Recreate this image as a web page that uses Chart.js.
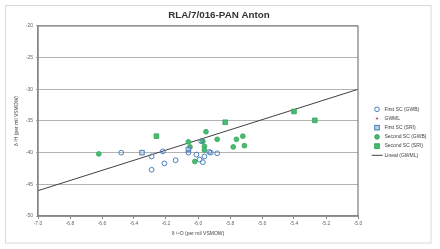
<!DOCTYPE html>
<html lang="en">
<head>
<meta charset="UTF-8" />
<title>RLA/7/016-PAN Anton</title>
<script src="https://cdn.jsdelivr.net/npm/chart.js"></script>
<style>
  html, body { margin: 0; padding: 0; background: #fff; }
  #wrap { width: 440px; height: 249px; }
</style>
</head>
<body>
<div id="wrap"><canvas id="isoChart" width="440" height="249"></canvas></div>
<script>
// First SC (GWB)
const firstGwbX = [-6.48, -6.29, -6.22, -6.21, -6.29, -6.14, -6.06, -6.01, -5.99, -5.96, -5.97, -5.93, -5.92, -5.88, -5.98];
const firstGwbY = [-40.0, -40.6, -39.8, -41.7, -42.7, -41.2, -40.0, -40.3, -41.1, -40.6, -41.5, -39.9, -40.0, -40.1, -38.2];
// First SC (SRI)
const firstSriX = [-6.35, -6.06];
const firstSriY = [-40.0, -39.5];
// Second SC (GWB)
const secondGwbX = [-6.62, -5.95, -6.06, -6.05, -5.97, -5.96, -5.96, -5.88, -5.76, -5.72, -5.78, -5.71, -6.02];
const secondGwbY = [-40.2, -36.7, -38.3, -39.1, -38.2, -39.0, -39.6, -37.9, -37.9, -37.4, -39.1, -38.9, -41.4];
// Second SC (SRI)
const secondSriX = [-6.26, -5.83, -5.40, -5.27];
const secondSriY = [-37.4, -35.2, -33.5, -34.9];
// GMWL
const gmwlX = [-7.0, -5.0];
const gmwlY = [-46.0, -30.0];

const xTicks = [-7.0, -6.8, -6.6, -6.4, -6.2, -6.0, -5.8, -5.6, -5.4, -5.2, -5.0];
const yTicks = [-50, -45, -40, -35, -30, -25, -20];

const font = "'Liberation Sans', Arial, sans-serif";
const blue = '#4a7ebb';
const green = '#47bd70';
const greenEdge = '#35a35d';

const pts = (xs, ys) => xs.map((x, i) => ({ x: x, y: ys[i] }));

// legend entries, drawn by hand to keep the Excel look
const legendEntries = [
  { text: 'First SC (GWB)', kind: 'circle', fill: '#ffffff', stroke: blue },
  { text: 'GWML', kind: 'star', fill: '#c0504d', stroke: '#c0504d' },
  { text: 'First SC (SRI)', kind: 'square', fill: '#b9cde5', stroke: blue },
  { text: 'Second SC (GWB)', kind: 'circle', fill: green, stroke: greenEdge },
  { text: 'Second SC (SRI)', kind: 'square', fill: green, stroke: greenEdge },
  { text: 'Lineal (GWML)', kind: 'line', fill: '#404040', stroke: '#404040' }
];

const framePlugin = {
  id: 'frame',
  beforeDraw(chart) {
    const ctx = chart.ctx;
    ctx.save();
    ctx.fillStyle = '#fff';
    ctx.fillRect(0, 0, chart.width, chart.height);
    ctx.strokeStyle = '#d9d9d9';
    ctx.lineWidth = 1;
    ctx.strokeRect(5.5, 5.5, 425.5, 237.5);
    ctx.restore();
  },
  afterDatasetsDraw(chart) {
    const { ctx, chartArea: a } = chart;
    ctx.save();
    ctx.strokeStyle = '#868686';
    ctx.lineWidth = 1.3;
    ctx.strokeRect(a.left, a.top, a.right - a.left, a.bottom - a.top);
    ctx.restore();
  },
  afterDraw(chart) {
    const ctx = chart.ctx;
    const mx = 377, tx = 384.5;
    let y = 109.3;
    ctx.save();
    ctx.font = '5px ' + font;
    ctx.textBaseline = 'middle';
    legendEntries.forEach(e => {
      ctx.fillStyle = e.fill;
      ctx.strokeStyle = e.stroke;
      ctx.lineWidth = 1;
      if (e.kind === 'circle') {
        ctx.beginPath();
        ctx.arc(mx, y, 2.3, 0, Math.PI * 2);
        ctx.fill();
        ctx.stroke();
      } else if (e.kind === 'square') {
        ctx.fillRect(mx - 2.3, y - 2.3, 4.6, 4.6);
        ctx.strokeRect(mx - 2.3, y - 2.3, 4.6, 4.6);
      } else if (e.kind === 'star') {
        ctx.beginPath();
        ctx.moveTo(mx - 1.2, y); ctx.lineTo(mx + 1.2, y);
        ctx.moveTo(mx, y - 1.2); ctx.lineTo(mx, y + 1.2);
        ctx.stroke();
      } else {
        ctx.beginPath();
        ctx.moveTo(371.7, y); ctx.lineTo(382.7, y);
        ctx.stroke();
      }
      ctx.fillStyle = '#404040';
      ctx.fillText(e.text, tx, y);
      y += 9.2;
    });
    ctx.restore();
  }
};

new Chart(document.getElementById('isoChart'), {
  type: 'scatter',
  data: {
    datasets: [
      { label: 'First SC (GWB)', data: pts(firstGwbX, firstGwbY), pointStyle: 'circle', pointRadius: 2.4,
        borderColor: blue, backgroundColor: 'rgba(255,255,255,0)', borderWidth: 1 },
      { label: 'GWML', data: pts(gmwlX, gmwlY), pointRadius: 0, borderColor: '#c0504d', backgroundColor: '#c0504d' },
      { label: 'First SC (SRI)', data: pts(firstSriX, firstSriY), pointStyle: 'rect', pointRadius: 3.2,
        borderColor: blue, backgroundColor: 'rgba(185,205,229,0.6)', borderWidth: 1 },
      { label: 'Second SC (GWB)', data: pts(secondGwbX, secondGwbY), pointStyle: 'circle', pointRadius: 2.4,
        borderColor: greenEdge, backgroundColor: green, borderWidth: 0.8 },
      { label: 'Second SC (SRI)', data: pts(secondSriX, secondSriY), pointStyle: 'rect', pointRadius: 3.3,
        borderColor: greenEdge, backgroundColor: green, borderWidth: 0.8 },
      { label: 'Lineal (GWML)', data: pts(gmwlX, gmwlY), showLine: true, pointRadius: 0,
        borderColor: '#404040', borderWidth: 1, fill: false }
    ]
  },
  options: {
    responsive: false,
    animation: false,
    devicePixelRatio: 1,
    layout: { padding: { left: 6, right: 8, top: 6, bottom: 6 } },
    plugins: {
      legend: { display: false },
      tooltip: { enabled: false },
      title: {
        display: true,
        text: 'RLA/7/016-PAN Anton',
        color: '#333',
        font: { family: font, size: 9.8, weight: 'bold' },
        padding: { top: 3, bottom: 5.2 }
      }
    },
    scales: {
      x: {
        type: 'linear',
        min: -7.0,
        max: -5.0,
        afterFit(scale) { scale.height = 27; },
        afterBuildTicks(scale) { scale.ticks = xTicks.map(v => ({ value: v })); },
        ticks: { callback: v => v.toFixed(1), color: '#666', font: { family: font, size: 5 }, padding: 2, maxRotation: 0 },
        grid: { drawOnChartArea: false, drawTicks: true, tickLength: 3, color: '#868686' },
        border: { color: '#868686', width: 1.3 },
        title: { display: true, text: 'δ ¹⁸O (per mil VSMOW)', color: '#404040',
          font: { family: font, size: 5 }, padding: { top: 0, bottom: 6 } }
      },
      y: {
        type: 'linear',
        min: -50,
        max: -20,
        afterFit(scale) { scale.width = 32; },
        afterBuildTicks(scale) { scale.ticks = yTicks.map(v => ({ value: v })); },
        ticks: { color: '#666', font: { family: font, size: 5 }, padding: 3 },
        grid: { color: '#b3b3b3', lineWidth: 1, tickLength: 2 },
        border: { color: '#868686', width: 1.3 },
        title: { display: true, text: 'δ ²H (per mil VSMOW)', color: '#404040',
          font: { family: font, size: 5 }, padding: { top: 8, bottom: 0 } }
      },
      // empty right-hand box that keeps room for the legend
      legendSpace: {
        type: 'linear',
        position: 'right',
        afterFit(scale) { scale.width = 74; },
        ticks: { display: false },
        grid: { display: false },
        border: { display: false }
      }
    }
  },
  plugins: [framePlugin]
});
</script>
</body>
</html>
